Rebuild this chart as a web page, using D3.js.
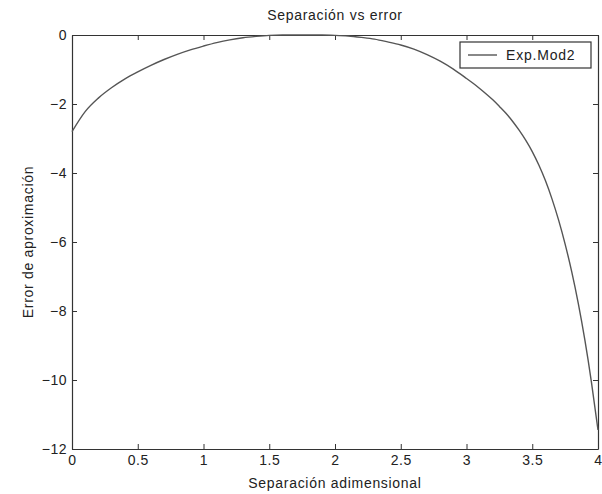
<!DOCTYPE html>
<html>
<head>
<meta charset="utf-8">
<script src="https://cdn.jsdelivr.net/npm/d3@7"></script>
<style>
  body { margin: 0; background: #fff; }
  svg { font-family: "Liberation Sans", Arial, sans-serif; }
</style>
</head>
<body>
<div id="chart"></div>
<script>
// valores
const separacion = [0, 0.1, 0.2, 0.3, 0.4, 0.5, 0.6, 0.7, 0.8, 0.9, 1.0,
  1.1, 1.2, 1.3, 1.4, 1.5, 1.6, 1.7, 1.8, 1.9, 2.0,
  2.1, 2.2, 2.3, 2.4, 2.5, 2.6, 2.7, 2.8, 2.9, 3.0,
  3.05, 3.1, 3.15, 3.2, 3.25, 3.3, 3.35, 3.4, 3.45, 3.5,
  3.55, 3.6, 3.65, 3.7, 3.75, 3.8, 3.85, 3.9, 3.95, 4.0];
const errorAprox = [-2.8, -2.22, -1.83, -1.53, -1.28, -1.07, -0.88, -0.71, -0.56, -0.43, -0.32,
  -0.22, -0.14, -0.08, -0.04, -0.01, 0, 0, 0, 0, -0.01,
  -0.03, -0.07, -0.12, -0.2, -0.29, -0.41, -0.57, -0.76, -0.99, -1.26,
  -1.4, -1.55, -1.71, -1.88, -2.07, -2.27, -2.5, -2.76, -3.05, -3.38,
  -3.77, -4.22, -4.75, -5.36, -6.06, -6.86, -7.78, -8.84, -10.06, -11.45];
const xTicks = [0, 0.5, 1, 1.5, 2, 2.5, 3, 3.5, 4];
const yTicks = [0, -2, -4, -6, -8, -10, -12];
const serieNombre = "Exp.Mod2";

const W = 602, H = 494;
const margin = {top: 35, right: 4, bottom: 45, left: 72};
const width = W - margin.left - margin.right,
    height = H - margin.top - margin.bottom;

const data = separacion.map((x, i) => ({x: x, y: errorAprox[i]}));

const svg = d3.select("#chart").append("svg")
    .attr("width", W)
    .attr("height", H);

const g = svg.append("g")
    .attr("transform", `translate(${margin.left},${margin.top})`);

const x = d3.scaleLinear().domain([0, 4]).range([0, width]);
const y = d3.scaleLinear().domain([-12, 0]).range([height, 0]);

const axisColor = "#333";

// ejes con marcas hacia dentro
const xAxis = g.append("g")
    .attr("transform", `translate(0,${height})`)
    .call(d3.axisBottom(x).tickValues(xTicks).tickSizeInner(-5).tickSizeOuter(0).tickPadding(6).tickFormat(d3.format("")));
const xTop = g.append("g")
    .call(d3.axisTop(x).tickValues(xTicks).tickSizeInner(-5).tickSizeOuter(0).tickFormat(""));
const yAxis = g.append("g")
    .call(d3.axisLeft(y).tickValues(yTicks).tickSizeInner(-5).tickSizeOuter(0).tickPadding(5).tickFormat(d3.format("")));
const yRight = g.append("g")
    .attr("transform", `translate(${width},0)`)
    .call(d3.axisRight(y).tickValues(yTicks).tickSizeInner(-5).tickSizeOuter(0).tickFormat(""));

[xAxis, xTop, yAxis, yRight].forEach(a => {
  a.select(".domain").attr("stroke", axisColor).attr("stroke-width", 1.2);
  a.selectAll(".tick line").attr("stroke", axisColor);
  a.selectAll(".tick text").attr("fill", "#222").style("font-size", "14px").style("letter-spacing", "0.5px");
});
yAxis.selectAll(".tick text").attr("dy", "0.35em");

// curva
const line = d3.line()
    .x(d => x(d.x))
    .y(d => y(d.y))
    .curve(d3.curveMonotoneX);

g.append("path")
    .datum(data)
    .attr("fill", "none")
    .attr("stroke", "#555")
    .attr("stroke-width", 1.4)
    .attr("d", line);

// leyenda
const leg = g.append("g").attr("transform", `translate(${width - 138},7)`);
leg.append("rect")
    .attr("width", 131).attr("height", 26)
    .attr("fill", "#fff").attr("stroke", axisColor).attr("stroke-width", 1.2);
leg.append("line")
    .attr("x1", 8).attr("x2", 37).attr("y1", 13).attr("y2", 13)
    .attr("stroke", "#555").attr("stroke-width", 1.4);
leg.append("text")
    .attr("x", 46).attr("y", 18)
    .style("font-size", "14px").style("letter-spacing", "0.8px").attr("fill", "#222")
    .text(serieNombre);

// titulos
svg.append("text")
    .attr("x", margin.left + width / 2).attr("y", 20)
    .attr("text-anchor", "middle")
    .style("font-size", "14px").style("letter-spacing", "0.7px").attr("fill", "#222")
    .text("Separación vs error");

svg.append("text")
    .attr("x", margin.left + width / 2).attr("y", 488)
    .attr("text-anchor", "middle")
    .style("font-size", "14px").style("letter-spacing", "0.7px").attr("fill", "#222")
    .text("Separación adimensional");

svg.append("text")
    .attr("transform", `translate(33,${margin.top + height / 2}) rotate(-90)`)
    .attr("text-anchor", "middle")
    .style("font-size", "14px").style("letter-spacing", "0.7px").attr("fill", "#222")
    .text("Error de aproximación");
</script>
</body>
</html>
